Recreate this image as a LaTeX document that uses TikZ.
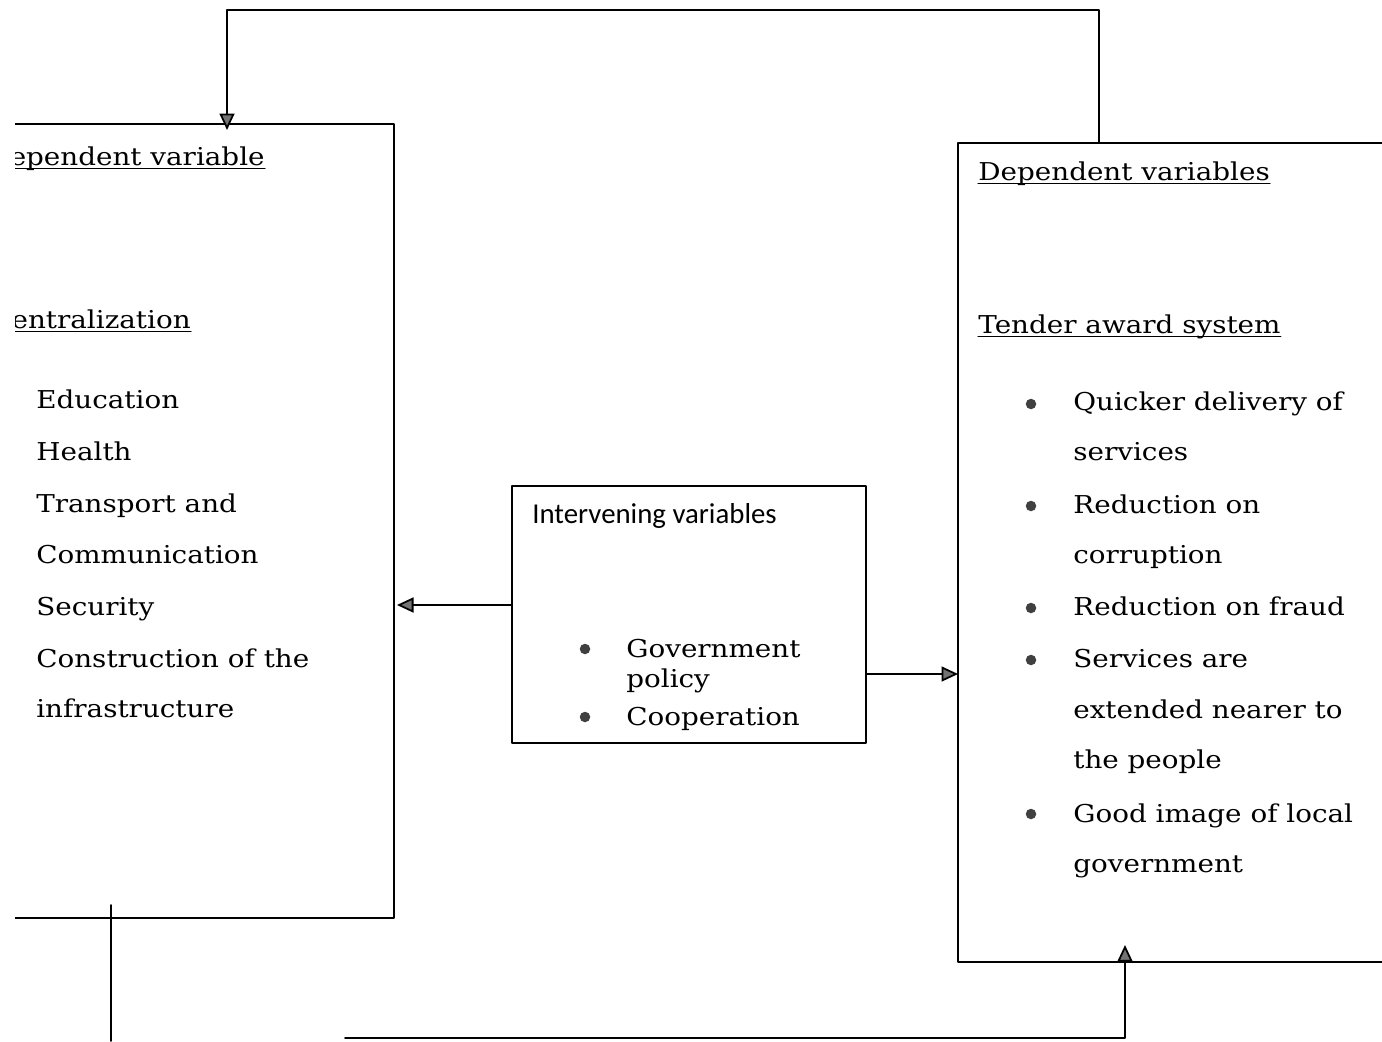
\documentclass[tikz,border=0pt]{standalone}
\usepackage{fontspec}
\setmainfont{DejaVu Serif}[FakeStretch=1.13]
\newfontfamily\calib{Carlito}
\usetikzlibrary{arrows.meta}

\begin{document}
\begin{tikzpicture}[x=0.02cm,y=-0.02cm,line cap=round,line join=round,
  >={Triangle[length=3.3mm,width=3mm,fill=black!55]},
  every node/.style={inner sep=0pt},
  frame/.style={line width=1pt},
  txt/.style={anchor=base west,font=\fontsize{14}{17}\selectfont},
  dot/.style={circle,fill=black!75,inner sep=0pt,minimum size=2.1mm}]
  \useasboundingbox (0,0) rectangle (1382,1041);
  \newcommand\uline[1]{\draw[line width=0.6pt] ([yshift=-2.2pt]#1.base west) -- ([yshift=-2.2pt]#1.base east);}
  % left box, cut off at the page edge
  \begin{scope}
    \clip (15,0) rectangle (1382,1041);
    \draw[frame] (0,124) -- (394,124) -- (394,918) -- (0,918);
    \node[txt,anchor=base east] (indep) at (265,165) {Independent variable};
    \node[txt,anchor=base east] (decen) at (191,328) {Decentralization};
    \uline{indep}
    \uline{decen}
  \end{scope}
  \node[txt] (educ) at (36,408) {Education};
  \node[txt] (health) at (36,460) {Health};
  \node[txt] (trans) at (36,512) {Transport and};
  \node[txt] (comm) at (36,563) {Communication};
  \node[txt] (secur) at (36,615) {Security};
  \node[txt] (constr) at (36,667) {Construction of the};
  \node[txt] (infra) at (36,717) {infrastructure};
  % middle box
  \node[draw,frame,minimum width=7.08cm,minimum height=5.14cm] (interv) at (689,614.5) {};
  \node[anchor=base west,font=\calib\fontsize{16.4}{19}\selectfont] (intlab) at (532,523) {Intervening variables};
  \node[dot] (gdot) at (585,649) {};
  \node[txt] (gov) at (626,657) {Government};
  \node[txt] (pol) at (626,687) {policy};
  \node[dot] (cdot) at (585,717) {};
  \node[txt] (coop) at (626,725) {Cooperation};
  % right box, runs off the page edge
  \draw[frame] (1382,143) -- (958,143) -- (958,962) -- (1382,962);
  \node[txt] (dep) at (978,180) {Dependent variables};
  \node[txt] (tender) at (978,333) {Tender award system};
  \uline{dep}
  \uline{tender}
  \node[dot] (qdot) at (1031,404) {};
  \node[txt] (quick) at (1073,410) {Quicker delivery of};
  \node[txt] (serv) at (1073,460) {services};
  \node[dot] (rdot) at (1031,506) {};
  \node[txt] (redc) at (1073,513) {Reduction on};
  \node[txt] (corr) at (1073,563) {corruption};
  \node[dot] (fdot) at (1031,608) {};
  \node[txt] (redf) at (1073,615) {Reduction on fraud};
  \node[dot] (sdot) at (1031,660) {};
  \node[txt] (sare) at (1073,667) {Services are};
  \node[txt] (ext) at (1073,718) {extended nearer to};
  \node[txt] (peop) at (1073,768) {the people};
  \node[dot] (idot) at (1031,814) {};
  \node[txt] (good) at (1073,822) {Good image of local};
  \node[txt] (govt) at (1073,872) {government};
  % connectors
  \coordinate (depTop) at (1099,143);
  \coordinate (indTop) at (227,130);
  \coordinate (lIn) at (397,605);
  \coordinate (rIn) at (958,674);
  \coordinate (stubTop) at (111,905);
  \coordinate (stubEnd) at (111,1041);
  \coordinate (runStart) at (345,1038);
  \coordinate (depBot) at (1125,945);
  \draw[->,frame] (depTop) -- (1099,10) -| (indTop);
  \draw[->,frame] (interv.west |- lIn) -- (lIn);
  \draw[->,frame] (interv.east |- rIn) -- (rIn);
  \draw[frame] (stubTop) -- (stubEnd);
  \draw[->,frame] (runStart) -| (depBot);
\end{tikzpicture}
\end{document}
